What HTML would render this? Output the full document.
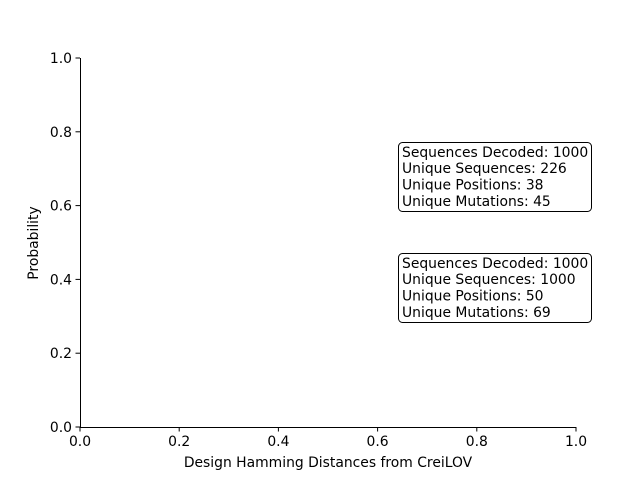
<!DOCTYPE html>
<html><head><meta charset="utf-8"><style>
html,body{margin:0;padding:0;background:#fff;}
svg{display:block;font-family:"DejaVu Sans",sans-serif;}
</style></head><body>
<svg id="chart" width="640" height="480" viewBox="0 0 640 480">
<rect width="640" height="480" fill="#fff"/>
<g id="axes"></g>
<g font-size="13.9">
<rect x="398.5" y="142.5" width="193" height="69" rx="4" fill="#fff" stroke="#000" stroke-width="1"/>
<text x="402" y="157" fill="#000">Sequences Decoded: 1000</text>
<text x="402" y="173" fill="#000">Unique Sequences: 226</text>
<text x="402" y="189.5" fill="#000">Unique Positions: 38</text>
<text x="402" y="206" fill="#000">Unique Mutations: 45</text>
</g>
<g font-size="13.9">
<rect x="398.5" y="253.5" width="193" height="69" rx="4" fill="#fff" stroke="#000" stroke-width="1"/>
<text x="402" y="268" fill="#000">Sequences Decoded: 1000</text>
<text x="402" y="284" fill="#000">Unique Sequences: 1000</text>
<text x="402" y="300.5" fill="#000">Unique Positions: 50</text>
<text x="402" y="317" fill="#000">Unique Mutations: 69</text>
</g>
<text x="328" y="467" font-size="13.9" text-anchor="middle">Design Hamming Distances from CreiLOV</text>
<text x="38" y="243" font-size="13.9" text-anchor="middle" transform="rotate(-90 38 243)">Probability</text>
</svg>
<script>
const xTicks = [0.0, 0.2, 0.4, 0.6, 0.8, 1.0];
const yTicks = [0.0, 0.2, 0.4, 0.6, 0.8, 1.0];
const xDomain = [0, 1];
const yDomain = [0, 1];
const L = 80, R = 576, T = 58, B = 427;
const xs = v => L + (v - xDomain[0]) / (xDomain[1] - xDomain[0]) * (R - L);
const ys = v => B - (v - yDomain[0]) / (yDomain[1] - yDomain[0]) * (B - T);
const NS = "http://www.w3.org/2000/svg";
const g = document.getElementById('axes');
function mk(tag, attrs, parent){const e=document.createElementNS(NS,tag);for(const k in attrs)e.setAttribute(k,attrs[k]);(parent||g).appendChild(e);return e;}
const xl = mk('line',{x1:L,y1:B+0.5,x2:R,y2:B+0.5,stroke:'#000','stroke-width':1});


const yl = mk('line',{x1:L+0.5,y1:T,x2:L+0.5,y2:B,stroke:'#000','stroke-width':1});


xTicks.forEach(v=>{
  const x = xs(v);
  const t = mk('line',{x1:x,y1:B,x2:x,y2:B+4.5,stroke:'#000','stroke-width':1});
  
  
  const lb = mk('text',{x:x,y:B+19,'font-size':13.9,'text-anchor':'middle'});
  lb.textContent = v.toFixed(1);
  
  
});
yTicks.forEach(v=>{
  const y = ys(v);
  const t = mk('line',{x1:L-4.5,y1:y,x2:L,y2:y,stroke:'#000','stroke-width':1});
  
  
  const lb = mk('text',{x:L-8,y:y+5,'font-size':13.9,'text-anchor':'end'});
  lb.textContent = v.toFixed(1);
  
  
});
</script>
</body></html>
